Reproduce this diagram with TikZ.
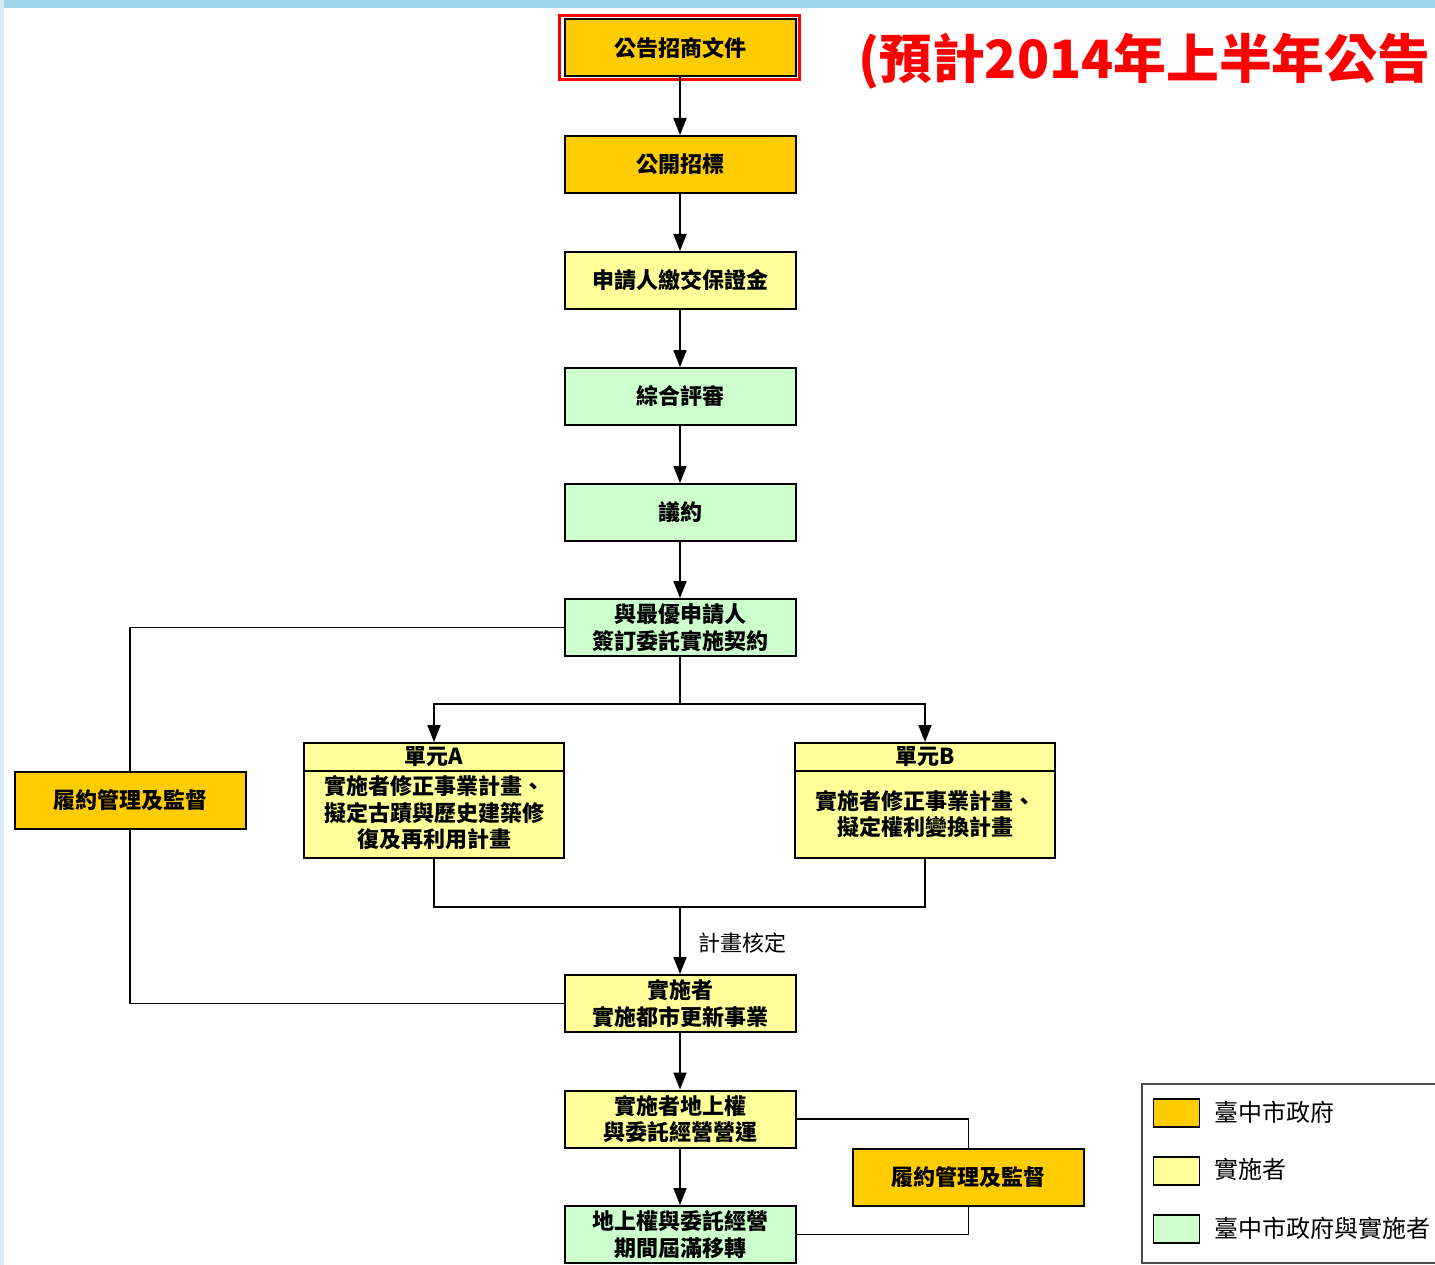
\documentclass[tikz,border=0pt]{standalone}
\usepackage{fontspec}
\newfontfamily\cjk{Noto Sans CJK TC}
\usetikzlibrary{arrows.meta}
\definecolor{gov}{RGB}{255,204,0}
\definecolor{imp}{RGB}{255,255,153}
\definecolor{both}{RGB}{204,255,204}
\definecolor{skyband}{RGB}{160,210,232}
\begin{document}
\begin{tikzpicture}[x=1pt,y=-1pt,
  txt/.style={inner sep=0pt,align=center,font=\cjk\bfseries\fontsize{22}{26.5}\selectfont},
  box/.style={txt,draw=black,line width=2pt,minimum width=231pt,minimum height=57pt},
  govbox/.style={box,fill=gov},
  impbox/.style={box,fill=imp},
  bothbox/.style={box,fill=both},
  arr/.style={-{Triangle[length=17pt,width=13pt]},line width=1.9pt},
  ln/.style={line width=1.9pt},
  swatch/.style={draw=black,line width=1.8pt,minimum width=46pt,minimum height=28pt,inner sep=0pt},
  legtxt/.style={anchor=west,inner sep=0pt,font=\cjk\fontsize{24}{28}\selectfont}]
\useasboundingbox (0,0) rectangle (1435,1265);
\clip (0,0) rectangle (1435,1265);
\fill[white] (0,0) rectangle (1435,1265);
\fill[skyband] (0,0) rectangle (1435,8);
\fill[skyband!45] (0,0) rectangle (4,1265);

% main column
\node[govbox] (n1) at (680,48) {公告招商文件};
\draw[red,line width=3pt] ([shift={(-4,-3)}]n1.north west) rectangle ([shift={(3,2)}]n1.south east);
\node[govbox] (n2) at (680,164.5) {公開招標};
\node[impbox] (n3) at (680,280.5) {申請人繳交保證金};
\node[bothbox] (n4) at (680,396.5) {綜合評審};
\node[bothbox] (n5) at (680,512.5) {議約};
\node[bothbox] (n6) at (680,627.5) {與最優申請人\\簽訂委託實施契約};

% units
\node[impbox,minimum width=260pt,minimum height=115pt] (ua) at (434,800.5) {};
\draw[ln] (304,771) -- (564,771);
\node[txt] (uah) at (434,757) {單元A};
\node[txt] (uab) at (434,813) {實施者修正事業計畫、\\擬定古蹟與歷史建築修\\復及再利用計畫};
\node[impbox,minimum width=260pt,minimum height=115pt] (ub) at (925,800.5) {};
\draw[ln] (795,771) -- (1055,771);
\node[txt] (ubh) at (925,757) {單元B};
\node[txt] (ubb) at (925,814) {實施者修正事業計畫、\\擬定權利變換計畫};

\node[govbox] (lm) at (130,800.5) {履約管理及監督};

\node[impbox] (n7) at (680,1003.5) {實施者\\實施都市更新事業};
\node[impbox] (n8) at (680,1119) {實施者地上權\\與委託經營營運};
\node[bothbox] (n9) at (680,1234.5) {地上權與委託經營\\期間屆滿移轉};
\node[govbox] (rm) at (968.5,1177) {履約管理及監督};

% connectors
\draw[arr] (n1) -- (n2);
\draw[arr] (n2) -- (n3);
\draw[arr] (n3) -- (n4);
\draw[arr] (n4) -- (n5);
\draw[arr] (n5) -- (n6);
\draw[ln] (n6.south) -- ++(0,47) coordinate (split);
\draw[arr] (split) -| (ua.north);
\draw[arr] (split) -| (ub.north);
\draw[ln] (n6.west) -| (lm.north);
\draw[ln] (lm.south) |- (n7.west);
\draw[ln] (ua.south) -- ++(0,48) -| (ub.south);
\coordinate (join) at (680,906);
\draw[arr] (join) -- (n7.north);
\node[anchor=west,inner sep=0pt,font=\cjk\fontsize{22}{26}\selectfont] (lbl) at (698,943) {計畫核定};
\draw[arr] (n7) -- (n8);
\draw[arr] (n8) -- (n9);
\draw[ln] (n8.east) -| (rm.north);
\draw[ln] (rm.south) |- (n9.east);

% note
\node[anchor=base west,inner sep=0pt,text=red,font=\cjk\bfseries\fontsize{52.8}{60}\selectfont] (note) at (858,79) {(預計2014年上半年公告};

% legend
\draw[black!70,line width=1.2pt] (1142,1084) rectangle (1450,1263);
\node[swatch,fill=gov] (s1) at (1176.5,1113) {};
\node[swatch,fill=imp] (s2) at (1176.5,1171) {};
\node[swatch,fill=both] (s3) at (1176.5,1229) {};
\node[legtxt] (l1) at (1214,1112) {臺中市政府};
\node[legtxt] (l2) at (1214,1169) {實施者};
\node[legtxt] (l3) at (1214,1228) {臺中市政府與實施者};
\end{tikzpicture}
\end{document}
